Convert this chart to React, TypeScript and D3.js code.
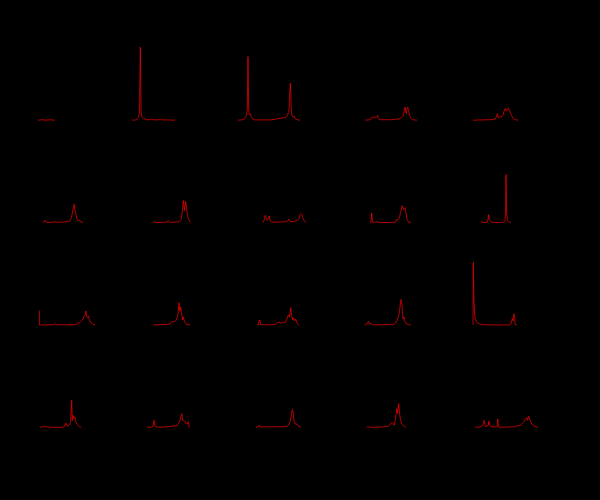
import React, { useEffect } from "react";
import * as d3 from "d3";

// Each series: [channel, intensity] pairs
const r1c1: [number, number][] = [[20,0],[25,0.5],[27,0],[32,0.4],[37,0]];
const r1c2: [number, number][] = [[5.5,0],[10,0.3],[11,1.5],[12,3],[13,8],[13.8,73],[14.6,8],[15.5,3],[17,1.5],[18,2],[19,0.5],[24,0.5],[25,1],[27,0.3],[33,0.5],[34,1.5],[35,0.3],[40,0.3],[48.5,0]];
const r1c3: [number, number][] = [[3,0],[8,0.5],[10,2],[11.5,5],[12.3,10],[13,63.6],[13.7,10],[14.5,5.5],[15.5,6],[16.5,3],[18,1],[20,0.3],[37,0.3],[40,1],[43,1.5],[46,2],[49,2.5],[51,3],[52.5,5],[54,10],[54.8,27],[55.3,37],[55.8,27],[56.3,10],[57,5],[58,3],[59,4],[60,1.5],[62,0.5],[65,0]];
const r1c4: [number, number][] = [[21.5,0],[27,0.5],[28,2.5],[29,3],[30,2],[31,3.5],[32,2.5],[33,3],[34,5],[35,2],[36,0.5],[42,0.5],[48,0.5],[53,1],[56,1.5],[58,2.5],[59.5,4],[60.5,8],[61.5,13],[62.8,6.5],[63.5,12],[64.2,13],[65,10],[66,5],[67.5,2],[69,0.5],[73.5,0]];
const r1c5: [number, number][] = [[21,0],[30,0.3],[38,0.5],[42,1],[44,2],[45.3,6.6],[46.3,2.5],[47.5,3],[48.5,4],[49.5,3],[51,5],[52,9],[53,11.6],[54.5,9],[55.5,11],[56.3,12.3],[57.5,10],[59,6],[61,2],[63,0.5],[66,0]];

const r2c1: [number, number][] = [[25,0],[26,0.5],[27,2.3],[28,0.5],[30,0],[35,0.3],[36.3,1.5],[37.5,0.3],[45,0.5],[50,1],[52,2],[53,4],[54,8],[55,13],[56.3,18.3],[57.2,11],[58,8],[59,3],[60.3,2],[61.5,2.5],[63,0.5],[65,0]];
const r2c2: [number, number][] = [[26.5,0],[27.8,1.2],[29,0],[40,0.3],[41.8,2],[43,0.3],[50,0.5],[53,1],[54.5,3],[55.5,8],[56.8,22],[58,12],[59.2,21.3],[60.3,12],[61.5,5],[63,1.5],[64.5,0]];
const r2c3: [number, number][] = [[28,0],[29,2],[30.3,7.3],[31.3,4],[32.3,2.3],[33.3,4],[34.3,6.7],[35.3,1.5],[36.5,0.5],[45,0.5],[50,0.8],[52.5,1.5],[53.7,3.3],[55,1],[58,1],[62,2],[64,4],[65,8],[66,9],[67,8],[68,4],[69.5,1.5],[71,0]];
const r2c4: [number, number][] = [[26.5,0],[27.5,0.5],[28.2,9.5],[29,0.5],[30,0],[34.2,1],[35,0],[48,0],[52,0.5],[53.2,3.3],[54.8,3],[56,5],[57,10],[58.8,17],[60,13],[61.5,15],[62.5,10],[63.5,3],[65,0.7],[67.5,0]];
const r2c5: [number, number][] = [[29,0],[30,1.5],[31,0],[35,0.3],[36,3],[36.7,8],[37.5,2.5],[38.5,1.5],[39.5,0.5],[45,0],[50,0.3],[52,0.5],[53,2],[53.5,10],[54,48],[54.6,10],[55.3,2],[56.5,1],[58,0.3],[59,0]];

const r3c1: [number, number][] = [[21.3,14.6],[21.5,0],[30,0],[36,0.3],[37,1.3],[38.5,0.3],[50,0],[58,0.3],[60,1.5],[62,2.5],[63.7,4.3],[65,6],[66,8.7],[67,10],[68,14],[68.7,8],[69.3,7.3],[70.7,9],[71.5,4],[72,4],[73,2],[74.7,0.7],[77,0]];
const r3c2: [number, number][] = [[26.5,0],[35,0.3],[40,0.5],[43.5,1],[45,3],[48,3.3],[50,5],[51.5,10],[52.5,22.3],[53.3,14],[54.2,18],[55.2,11],[56,5],[56.8,8],[57.8,4],[58.8,2.3],[60,0.5],[63.5,0]];
const r3c3: [number, number][] = [[22,0],[23.5,0],[24,4.6],[25,4.6],[25.5,0],[28,0.5],[30,0],[40,0.3],[42,2],[44,3],[46,1.5],[48,3],[50,2],[52,6],[53.3,10],[54.5,8],[55.7,17.3],[56.5,10],[57.5,5],[58.3,7.3],[59.5,4],[60.7,5.7],[62,2],[63,0.5],[64,0]];
const r3c4: [number, number][] = [[21,0],[23.5,1],[24.8,3.6],[26,1],[27.5,1.3],[29,0.3],[35,0],[45,0.3],[50,0.5],[51.5,1.5],[53.5,4],[55.5,10],[57.5,25.5],[58.5,20],[59.5,6],[60.5,8],[61.5,3],[63,1],[65,0.3],[67.5,0]];
const r3c5: [number, number][] = [[21,0.3],[21.3,62.6],[22,22],[23,7],[24.7,2.6],[28,0.7],[35,0],[58,0],[59,1],[60.3,6.6],[61,4],[62,11.3],[62.6,8],[63,0.5],[65,0]];

const r4c1: [number, number][] = [[22,0],[25,0.5],[27,1],[29,0.3],[35,0],[43,0],[45,0.5],[46.5,1],[48,4.3],[49,1.5],[51,2],[52.5,5],[53.7,27],[54.3,7],[55.3,12],[56,9],[57,10.3],[58,5],[58.7,3.3],[60,2],[61.3,0.7],[63,0]];
const r4c2: [number, number][] = [[20.5,0],[25,0.3],[26.5,1],[27.5,7],[28.5,1],[30,0.5],[33,0],[40,0.5],[45,1],[49,1.5],[51,2],[52,4],[53.5,7.3],[55.2,13.7],[56.2,7],[57.8,6.3],[59.5,4],[60.5,3],[61.8,5.7],[62.8,0.3],[63.5,0]];
const r4c3: [number, number][] = [[21,0],[23,0.3],[24.3,2.3],[25.5,0.3],[30,0.5],[40,0.5],[48,0.5],[52,1],[54,2.5],[55,5],[56,10.5],[57.3,17.7],[58,16],[59,6.3],[60.5,3.3],[62,3.3],[63.5,1],[65.5,0.3],[66,0]];
const r4c4: [number, number][] = [[23.2,0],[25,0.5],[27.5,0],[30,0],[38,0.3],[42,1],[44.5,1],[47.2,3.3],[49.2,4.7],[50.8,2],[52,8],[53.2,18.7],[54,14],[55.2,23.7],[56.5,10.3],[58.2,3.3],[60.5,1],[62.5,0]];
const r4c5: [number, number][] = [[23,0],[28,0.3],[30.3,1.5],[31.5,4],[32.3,7],[33.2,0.5],[35,1.5],[36.2,2],[37,6.3],[38,1.5],[39,0.5],[43,0.3],[45.2,1],[45.7,8.3],[46.5,0.5],[48,0],[55,0.3],[62,0.5],[66,1.5],[68.5,2.3],[70.5,4],[72.5,6],[74.7,9.7],[75.5,7],[76.7,11],[78.7,5.7],[80.5,2.3],[83,1],[84.7,0.3],[86,0]];

const seriesGrid = [
  [r1c1, r1c2, r1c3, r1c4, r1c5],
  [r2c1, r2c2, r2c3, r2c4, r2c5],
  [r3c1, r3c2, r3c3, r3c4, r3c5],
  [r4c1, r4c2, r4c3, r4c4, r4c5],
];
const rows = [0, 1, 2, 3];
const cols = [0, 1, 2, 3, 4];
const xDomain: [number, number] = [0, 100];
const yDomain: [number, number] = [0, 80];

export default function App() {
  useEffect(() => {
    document.body.style.margin = "0";
    document.body.style.background = "#000";
  }, []);
  const W = 600, H = 500;
  const colBand = d3.scaleBand<number>().domain(cols).range([18, 552]).paddingInner(0.0783).paddingOuter(0);
  const rowBand = d3.scaleBand<number>().domain(rows).range([40.2, 427.3]).paddingInner(0.2185).paddingOuter(0);
  const bw = colBand.bandwidth();
  const bh = rowBand.bandwidth();
  const x = d3.scaleLinear().domain(xDomain).range([0, bw]);
  const y = d3.scaleLinear().domain(yDomain).range([bh, 0]);
  const line = d3.line<[number, number]>().x(d => x(d[0])).y(d => y(d[1]));
  return (
    <svg width={W} height={H} style={{ display: "block", background: "#000" }}>
      <rect x={0} y={0} width={W} height={H} fill="#000" />
      {rows.map(r => cols.map(c => (
        <g key={`${r}-${c}`} transform={`translate(${colBand(c)},${rowBand(r)})`}>
          <path d={line(seriesGrid[r][c]) || ""} fill="none" stroke="#ff0000" strokeWidth={0.7} strokeLinejoin="miter" />
        </g>
      )))}
    </svg>
  );
}
